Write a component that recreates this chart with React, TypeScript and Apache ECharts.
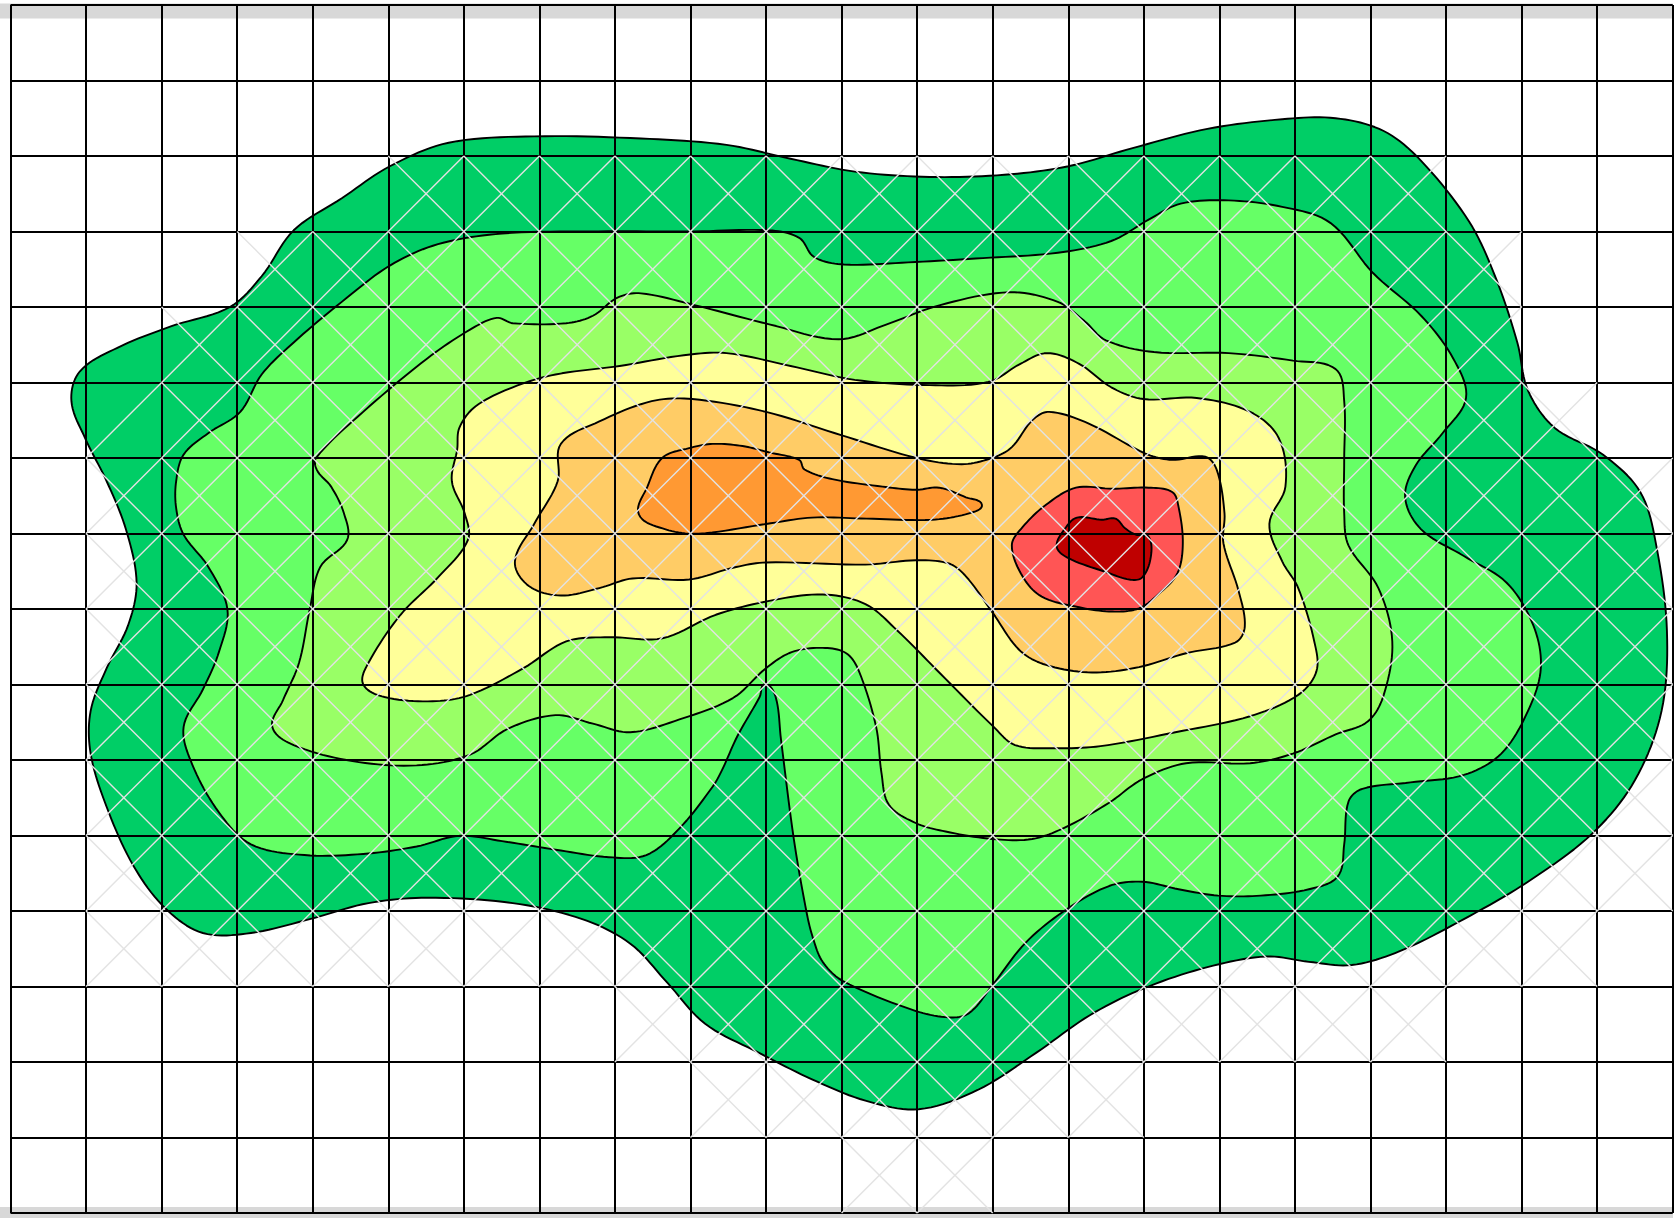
import React, { useEffect, useRef } from "react";
import * as echarts from "echarts";

// Axis units: one grid cell measures 70.7 units, 22 cells wide and 16 cells tall.
const CELL = 70.7;
const COLS = 22;
const ROWS = 16;

// Filled levels, from the outermost to the innermost: [x, y] outline points.
const levelA = [[57,371],[65,343],[100,321],[150,301],[205,283],[235,254],[265,211],[310,181],[355,151],[410,129],[490,123],[590,125],[670,131],[730,144],[790,156],[860,161],[930,159],[990,151],[1050,134],[1120,116],[1190,107],[1240,106],[1285,118],[1320,146],[1365,203],[1390,256],[1410,316],[1420,361],[1445,396],[1490,421],[1525,456],[1540,506],[1550,586],[1545,661],[1520,726],[1480,776],[1420,821],[1360,856],[1300,886],[1255,899],[1215,896],[1175,891],[1120,901],[1060,921],[1010,946],[960,981],[905,1016],[850,1034],[800,1026],[750,1006],[700,981],[650,954],[615,916],[580,879],[535,856],[470,841],[390,836],[335,841],[280,856],[225,869],[180,869],[145,846],[115,806],[90,751],[75,701],[75,661],[90,621],[110,581],[118,541],[108,491],[90,446],[70,406]];
const levelB = [[155,446],[162,421],[185,401],[215,381],[235,346],[265,316],[310,278],[355,244],[400,224],[460,214],[550,212],[640,212],[710,211],[738,218],[752,236],[780,243],[840,241],[910,237],[980,232],[1030,221],[1065,201],[1095,186],[1140,183],[1190,189],[1235,204],[1275,251],[1320,291],[1350,331],[1362,368],[1340,401],[1315,431],[1305,461],[1320,491],[1360,516],[1400,541],[1425,581],[1432,621],[1420,661],[1395,701],[1360,721],[1310,728],[1265,734],[1252,746],[1248,786],[1242,816],[1215,828],[1170,834],[1130,834],[1093,828],[1059,821],[1028,825],[988,847],[950,878],[918,919],[897,944],[878,948],[844,941],[779,914],[760,896],[751,874],[745,850],[733,781],[721,688],[716,648],[706,636],[701,648],[680,685],[666,716],[657,732],[626,771],[595,796],[560,798],[510,791],[460,783],[420,778],[380,788],[330,795],[275,796],[225,786],[195,756],[170,711],[162,676],[180,641],[195,606],[203,566],[185,526],[162,496],[155,471]];
const levelC = [[455,293],[470,298],[520,298],[545,291],[568,274],[590,270],[640,281],[710,299],[775,313],[820,299],[870,281],[935,269],[980,278],[1005,296],[1025,314],[1070,325],[1140,326],[1200,333],[1240,341],[1248,371],[1248,426],[1248,476],[1252,506],[1280,546],[1293,596],[1285,646],[1270,671],[1240,683],[1200,701],[1160,710],[1100,710],[1059,725],[1028,747],[987,770],[956,781],[919,781],[875,774],[847,766],[822,749],[815,719],[810,676],[794,624],[782,607],[760,602],[731,606],[707,621],[676,649],[626,669],[580,681],[545,673],[510,665],[465,678],[430,702],[380,712],[320,708],[265,693],[245,676],[255,651],[270,616],[280,566],[290,526],[315,501],[312,476],[300,451],[287,436],[286,424],[330,381],[390,331],[430,304]];
const levelD = [[420,396],[435,376],[470,358],[510,346],[570,338],[630,328],[670,326],[730,338],[790,351],[860,356],[915,353],[945,336],[970,326],[1000,336],[1030,358],[1060,369],[1110,368],[1160,381],[1187,406],[1193,451],[1178,486],[1190,521],[1205,546],[1220,596],[1222,624],[1205,646],[1160,666],[1090,681],[1020,694],[975,696],[940,693],[920,676],[870,626],[830,586],[800,561],[760,552],[710,558],[660,571],[610,593],[560,592],[520,596],[480,621],[430,646],[395,652],[350,648],[330,636],[335,616],[365,571],[400,536],[428,501],[425,476],[413,446],[418,416]];
const levelE = [[472,521],[490,486],[512,446],[515,411],[551,390],[600,371],[638,369],[707,381],[778,403],[847,424],[890,430],[919,424],[937,414],[956,389],[972,381],[1009,392],[1062,420],[1087,426],[1118,423],[1129,436],[1136,476],[1135,504],[1149,548],[1155,582],[1146,597],[1100,607],[1056,620],[1012,625],[969,618],[944,604],[919,569],[894,535],[878,523],[847,520],[800,524],[707,522],[676,527],[635,538],[582,537],[551,546],[515,553],[485,544]];
const levelF = [[588,477],[596,451],[610,424],[635,415],[657,411],[685,413],[710,419],[738,426],[743,435],[769,444],[816,451],[847,454],[869,452],[894,461],[909,468],[897,476],[862,482],[801,481],[750,480],[707,486],[644,495],[613,491]];
const levelG = [[937,506],[947,489],[969,468],[997,452],[1031,453],[1065,452],[1087,456],[1093,470],[1097,504],[1092,532],[1075,551],[1056,565],[1031,568],[1000,564],[965,554],[947,535]];
const levelH = [[979,507],[987,490],[998,480],[1021,482],[1034,481],[1043,490],[1053,496],[1065,498],[1067,517],[1059,536],[1047,538],[1025,531],[990,518]];

const levels = [levelA, levelB, levelC, levelD, levelE, levelF, levelG, levelH];
const levelColors = ["#00CE66", "#66FF66", "#99FF66", "#FFFF99", "#FFCC66", "#FF9933", "#FF5555", "#BF0000"];

// Mesh cells crossed by two diagonals: [row, first column, last column].
const meshRows = [[2,5,18],[3,3,19],[4,2,19],[5,2,20],[6,1,21],[7,1,21],[8,1,21],[9,1,21],[10,1,21],[11,1,21],[12,1,20],[13,8,18],[14,9,14],[15,11,12]];
// Mesh cell with only its rising diagonal: [column, row].
const risingOnlyCells = [[1,5]];

function buildMeshData() {
  const out: number[][] = [];
  meshRows.forEach(([row, first, last]) => {
    for (let col = first; col <= last; col++) out.push([col * CELL, row * CELL, 1]);
  });
  risingOnlyCells.forEach(([col, row]) => out.push([col * CELL, row * CELL, 0]));
  return out;
}

// Rounds a closed outline of screen points: each point keeps a tangent parallel to
// its neighbours' chord, with handles a third of the segment long.
function roundOutline(pts: number[][], steps = 10) {
  const n = pts.length;
  const tangents = pts.map((_, i) => {
    const a = pts[(i - 1 + n) % n];
    const b = pts[(i + 1) % n];
    const dx = b[0] - a[0];
    const dy = b[1] - a[1];
    const len = Math.hypot(dx, dy) || 1;
    return [dx / len, dy / len];
  });
  const out: number[][] = [];
  for (let i = 0; i < n; i++) {
    const p0 = pts[i];
    const p3 = pts[(i + 1) % n];
    const d = Math.hypot(p3[0] - p0[0], p3[1] - p0[1]) / 3;
    const t0 = tangents[i];
    const t1 = tangents[(i + 1) % n];
    const c1 = [p0[0] + t0[0] * d, p0[1] + t0[1] * d];
    const c2 = [p3[0] - t1[0] * d, p3[1] - t1[1] * d];
    for (let s = 0; s < steps; s++) {
      const t = s / steps;
      const u = 1 - t;
      out.push([
        u * u * u * p0[0] + 3 * u * u * t * c1[0] + 3 * u * t * t * c2[0] + t * t * t * p3[0],
        u * u * u * p0[1] + 3 * u * u * t * c1[1] + 3 * u * t * t * c2[1] + t * t * t * p3[1],
      ]);
    }
  }
  return out;
}

export default function App() {
  const ref = useRef<HTMLDivElement>(null);
  useEffect(() => {
    document.body.style.margin = "0";
    const chart = echarts.init(ref.current!, undefined, { renderer: "svg" });

    const axisBase = {
      type: "value",
      min: 0,
      interval: CELL,
      z: 3,
      axisLabel: { show: false },
      axisTick: { show: false },
      axisLine: { show: false },
      splitLine: { show: true, showMinLine: true, showMaxLine: true, lineStyle: { color: "#000000", width: 2 } },
    };

    const levelSeries = levels.map((points, i) => ({
      type: "custom",
      name: "level" + i,
      coordinateSystem: "cartesian2d",
      silent: true,
      z: 1,
      data: points,
      encode: { x: 0, y: 1 },
      renderItem: (params: any, api: any) => {
        if (params.dataIndex !== 0) return null;
        return {
          type: "polygon",
          z2: i,
          shape: { points: roundOutline(points.map((p) => api.coord(p))) },
          style: { fill: levelColors[i], stroke: "#000000", lineWidth: 1.9, lineJoin: "round" },
        };
      },
    }));

    const meshSeries = {
      type: "custom",
      name: "mesh",
      coordinateSystem: "cartesian2d",
      silent: true,
      z: 4,
      data: buildMeshData(),
      encode: { x: 0, y: 1 },
      renderItem: (_params: any, api: any) => {
        const x = api.value(0);
        const y = api.value(1);
        const both = api.value(2) === 1;
        const a = api.coord([x, y]);
        const b = api.coord([x + CELL, y + CELL]);
        const style = { stroke: "#E3E3E3", lineWidth: 1.4, fill: "none" };
        const children: any[] = [
          { type: "line", shape: { x1: a[0], y1: b[1], x2: b[0], y2: a[1] }, style },
        ];
        if (both) children.push({ type: "line", shape: { x1: a[0], y1: a[1], x2: b[0], y2: b[1] }, style });
        return { type: "group", children };
      },
    };

    chart.setOption({
      animation: false,
      backgroundColor: "#ffffff",
      grid: { left: 10.5, top: 5, width: 1662.2, height: 1208, containLabel: false, show: false },
      xAxis: { ...axisBase, max: COLS * CELL },
      yAxis: { ...axisBase, max: ROWS * CELL, inverse: true },
      graphic: [
        { type: "rect", z: -10, silent: true, shape: { x: 0, y: 3.5, width: 1673, height: 15 }, style: { fill: "#D8D8D8" } },
        { type: "rect", z: -10, silent: true, shape: { x: 0, y: 1207, width: 1673, height: 11 }, style: { fill: "#D8D8D8" } },
      ],
      series: [...levelSeries, meshSeries],
    });
    return () => chart.dispose();
  }, []);
  return <div ref={ref} style={{ width: 1677, height: 1218 }} />;
}
